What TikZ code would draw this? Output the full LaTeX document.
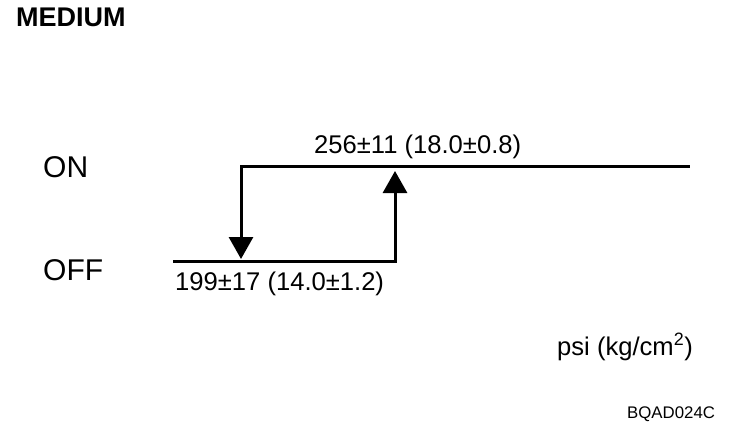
\documentclass[tikz,border=0pt]{standalone}
\usepackage{fontspec}
\setmainfont{Liberation Sans}
\usetikzlibrary{arrows.meta}
\tikzset{
  valtext/.style={inner sep=0pt, anchor=base west, font=\fontsize{25.6}{28}\selectfont},
  statetext/.style={valtext, font=\fontsize{30}{34}\selectfont},
  curve/.style={line width=3pt, line cap=rect},
  arrow/.style={line width=3pt, -{Triangle[width=24pt,length=22pt]}}
}

\begin{document}
\begin{tikzpicture}[x=1pt, y=-1pt]
  \useasboundingbox (0,0) rectangle (752,436);
  % titles and state names
  \node[valtext, font=\bfseries\fontsize{27}{30}\selectfont] (title) at (16,27) {MEDIUM};
  \node[statetext] (on) at (43,177) {ON};
  \node[statetext] (off) at (43,280) {OFF};
  % switching curve
  \coordinate (offstart) at (174,261);
  \coordinate (offend) at (395,261);
  \coordinate (onleft) at (241,166);
  \coordinate (onright) at (688,166);
  \coordinate (uptip) at (395,171);
  \coordinate (downtip) at (241,259);
  \draw[curve] (offstart) -- (offend);
  \draw[curve] (onleft) -- (onright);
  \draw[arrow] (offend) -- (uptip);
  \draw[arrow] (onleft) -- (downtip);
  % pressure values
  \node[valtext] (onval) at (314,153) {256±11 (18.0±0.8)};
  \node[valtext] (offval) at (175,290) {199±17 (14.0±1.2)};
  \node[valtext] (unit) at (557,355) {psi (kg/cm\textsuperscript{2})};
  \node[valtext, font=\fontsize{16.8}{19}\selectfont] (code) at (627,418) {BQAD024C};
\end{tikzpicture}
\end{document}
